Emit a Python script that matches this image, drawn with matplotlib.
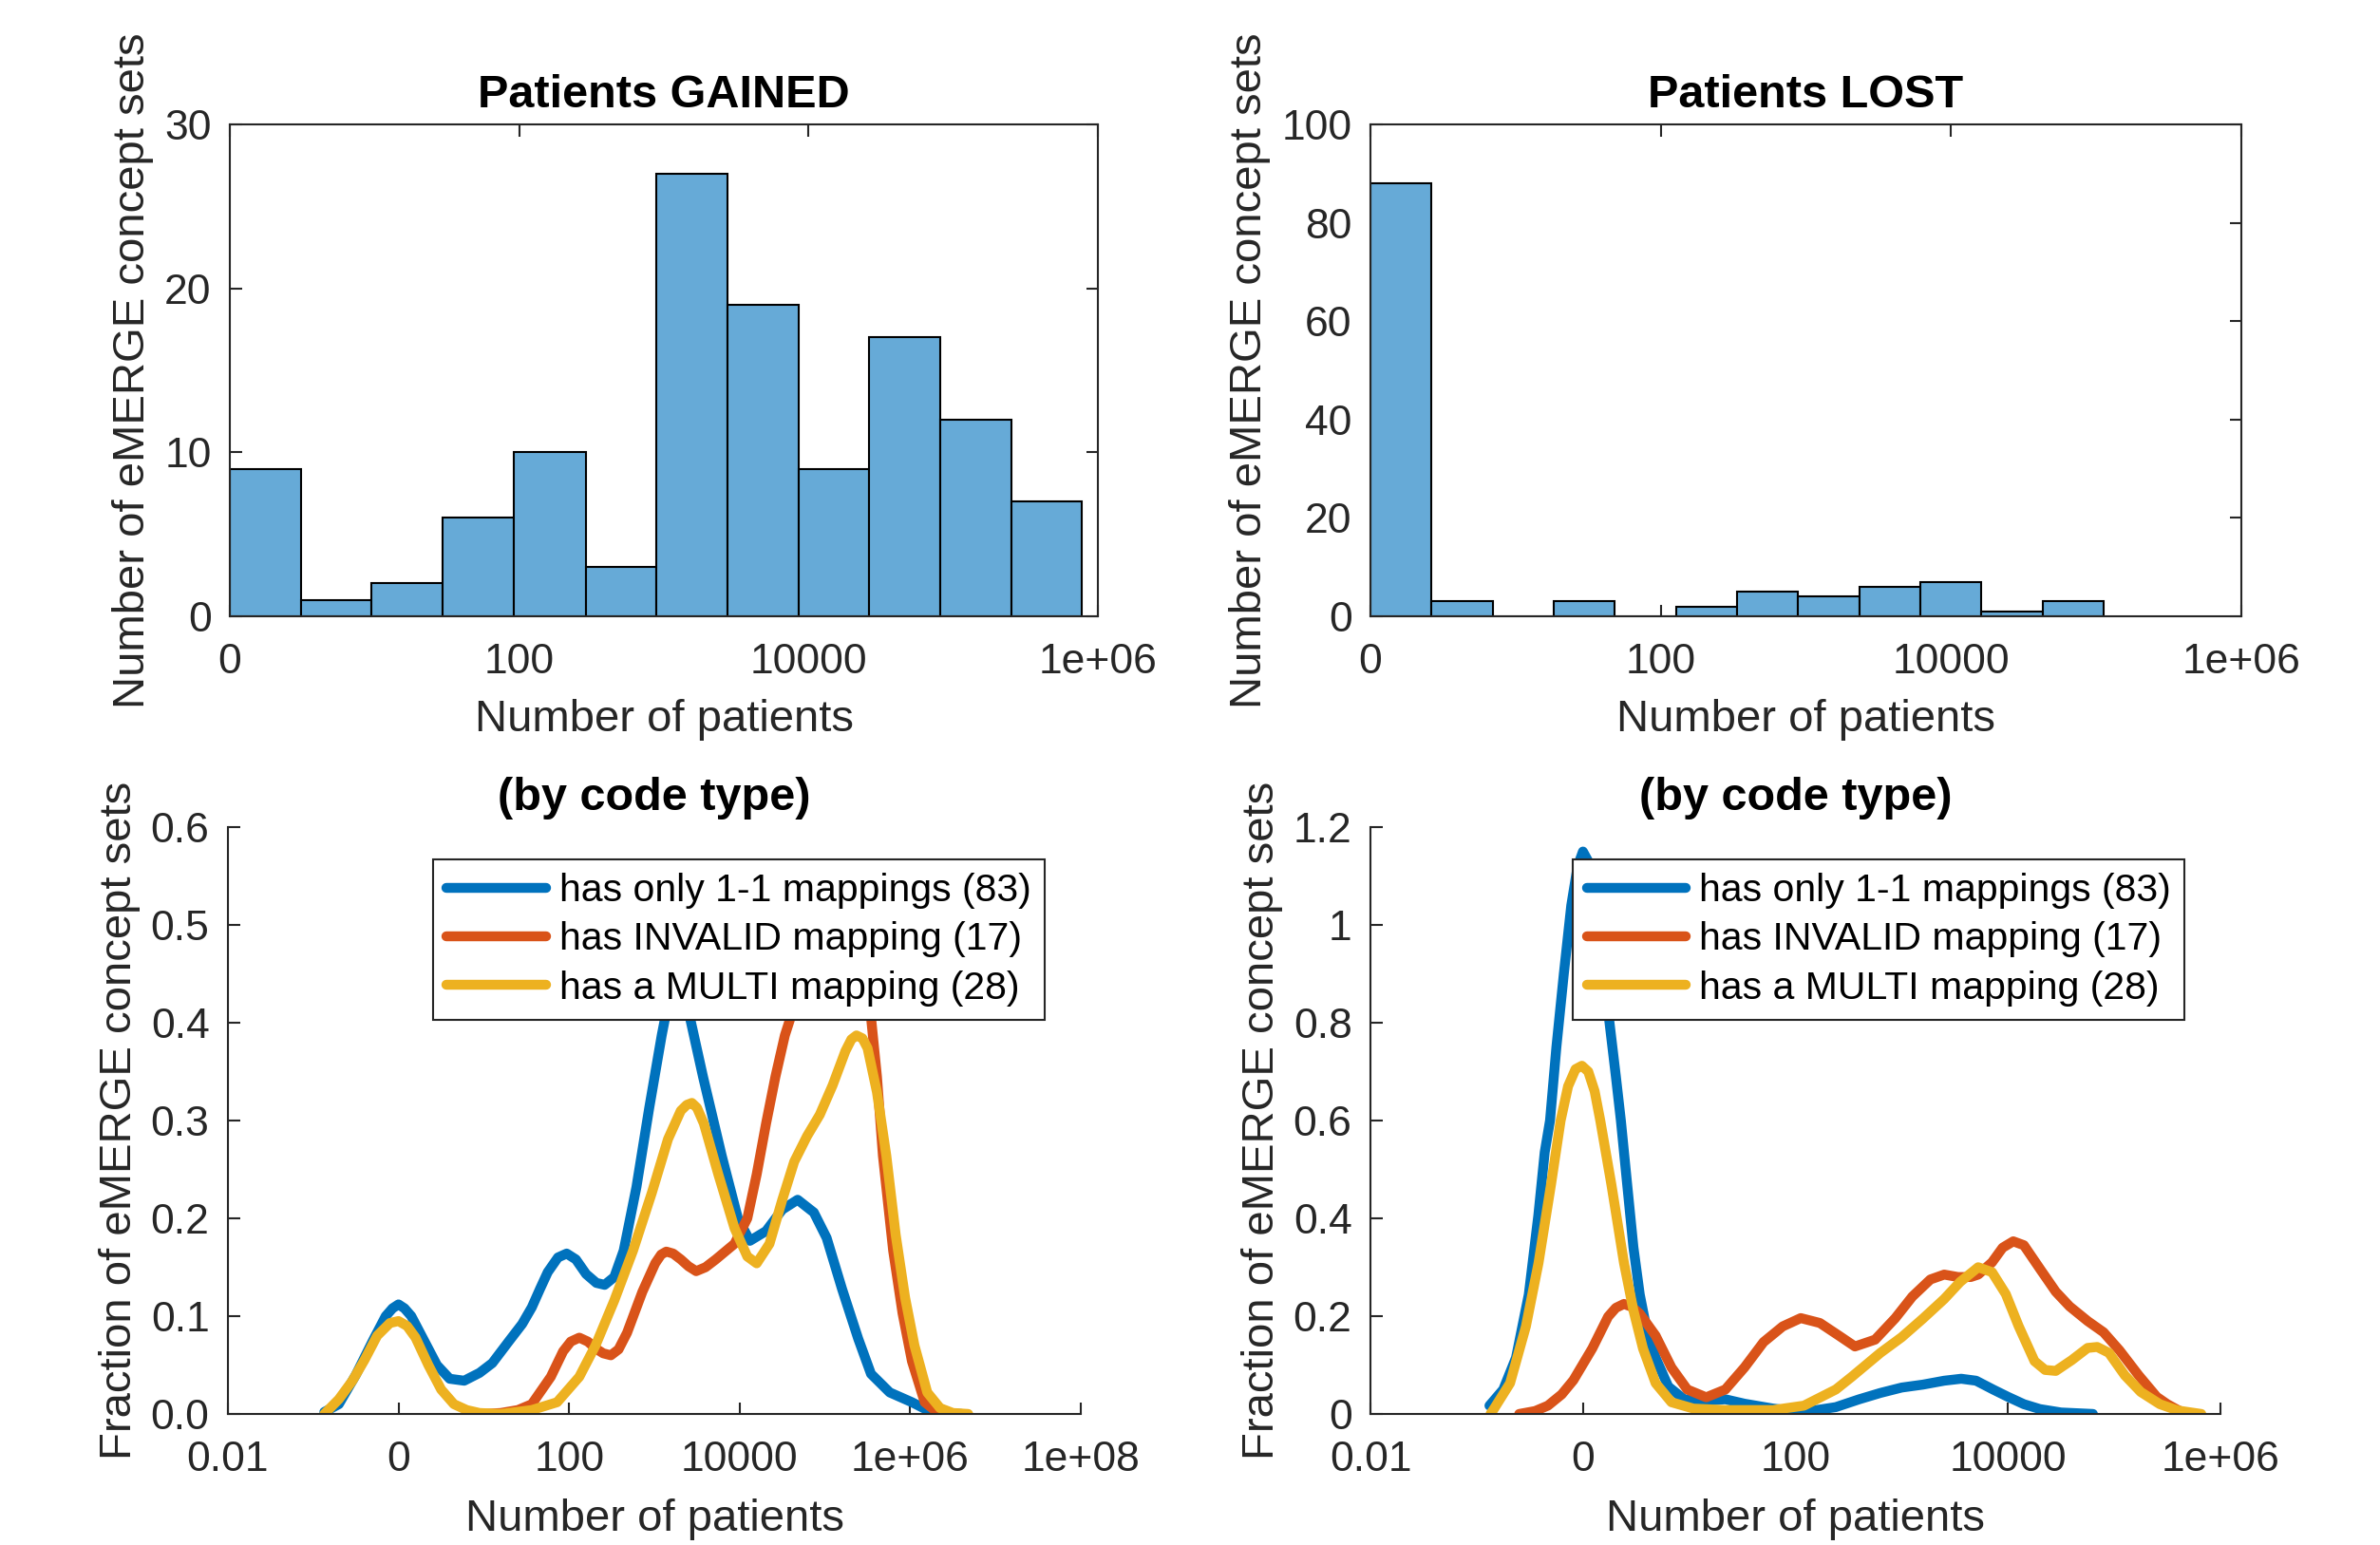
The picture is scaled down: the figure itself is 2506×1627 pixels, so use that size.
"""
Patients gained / lost per eMERGE concept set (histograms + density by code type).
"""
import numpy as np
import matplotlib
matplotlib.use("Agg")
import matplotlib.pyplot as plt

# ── Dados (eixo x em log10 do número de pacientes) ─────────────
GAINED_EDGES = [0.0, 0.49, 0.98, 1.47, 1.96, 2.46, 2.95, 3.44, 3.93, 4.42, 4.91, 5.40, 5.89]
GAINED_COUNTS = [9, 1, 2, 6, 10, 3, 27, 19, 9, 17, 12, 7]

LOST_EDGES = [0.0, 0.421, 0.842, 1.263, 1.684, 2.105, 2.526, 2.947, 3.368, 3.789, 4.21, 4.631, 5.052]
LOST_COUNTS = [88, 3, 0, 3, 0, 2, 5, 4, 6, 7, 1, 3]

SERIES_LABELS = [
    "has only 1-1 mappings (83)",
    "has INVALID mapping (17)",
    "has a MULTI mapping (28)",
]

# gained, by code type
G_ONE_X = [-0.87, -0.7, -0.5, -0.3, -0.15, -0.07, 0.0, 0.07, 0.15, 0.3, 0.45, 0.6, 0.77, 0.95, 1.1,
           1.3, 1.45, 1.563, 1.66, 1.75, 1.87, 1.972, 2.08, 2.2, 2.32, 2.417, 2.53, 2.64, 2.79, 2.94,
           3.086, 3.16, 3.2, 3.27, 3.34, 3.38, 3.57, 3.79, 3.98, 4.12, 4.31, 4.5, 4.68, 4.87, 5.02,
           5.2, 5.39, 5.54, 5.76, 6.02, 6.2, 6.4, 6.6]
G_ONE_Y = [0.002, 0.01, 0.04, 0.075, 0.1, 0.108, 0.112, 0.108, 0.1, 0.075, 0.05, 0.036, 0.034, 0.042,
           0.052, 0.075, 0.092, 0.109, 0.128, 0.145, 0.16, 0.164, 0.158, 0.143, 0.134, 0.132, 0.14,
           0.167, 0.232, 0.313, 0.387, 0.42, 0.44, 0.455, 0.44, 0.42, 0.345, 0.264, 0.2, 0.177,
           0.187, 0.209, 0.219, 0.206, 0.18, 0.128, 0.077, 0.041, 0.022, 0.012, 0.004, 0.001, 0.0]

G_INV_X = [1.0, 1.2, 1.4, 1.563, 1.786, 1.93, 2.02, 2.12, 2.22, 2.31, 2.4, 2.49, 2.58, 2.68, 2.86,
           3.01, 3.08, 3.14, 3.22, 3.31, 3.4, 3.49, 3.6, 3.72, 3.94, 4.09, 4.2, 4.31, 4.42, 4.53,
           4.6, 4.75, 4.95, 5.15, 5.3, 5.45, 5.54, 5.61, 5.68, 5.8, 5.91, 6.02, 6.17, 6.3, 6.43]
G_INV_Y = [0.0, 0.001, 0.004, 0.01, 0.038, 0.064, 0.074, 0.078, 0.074, 0.067, 0.062, 0.06, 0.066,
           0.083, 0.125, 0.154, 0.163, 0.166, 0.164, 0.158, 0.151, 0.146, 0.15, 0.158, 0.174, 0.2,
           0.245, 0.297, 0.345, 0.387, 0.406, 0.45, 0.49, 0.5, 0.49, 0.445, 0.406, 0.345, 0.264,
           0.167, 0.103, 0.054, 0.012, 0.003, 0.0]

G_MULTI_X = [-0.87, -0.7, -0.54, -0.4, -0.25, -0.1, 0.0, 0.1, 0.2, 0.35, 0.5, 0.65, 0.8, 0.95, 1.2,
             1.563, 1.86, 2.12, 2.31, 2.53, 2.75, 2.97, 3.16, 3.31, 3.38, 3.44, 3.5, 3.58, 3.75,
             3.94, 4.09, 4.2, 4.35, 4.5, 4.64, 4.79, 4.94, 5.09, 5.24, 5.31, 5.37, 5.44, 5.5, 5.61,
             5.72, 5.83, 5.94, 6.05, 6.2, 6.35, 6.5, 6.68]
G_MULTI_Y = [0.0, 0.015, 0.034, 0.055, 0.08, 0.093, 0.095, 0.09, 0.078, 0.05, 0.025, 0.01, 0.004,
             0.001, 0.0, 0.004, 0.012, 0.038, 0.07, 0.116, 0.167, 0.226, 0.281, 0.31, 0.316, 0.318,
             0.313, 0.297, 0.245, 0.19, 0.161, 0.154, 0.174, 0.219, 0.258, 0.284, 0.306, 0.336,
             0.371, 0.383, 0.387, 0.384, 0.374, 0.329, 0.264, 0.183, 0.119, 0.07, 0.022, 0.006,
             0.001, 0.0]

# lost, by code type
L_ONE_X = [-0.88, -0.75, -0.63, -0.51, -0.42, -0.36, -0.31, -0.25, -0.18, -0.11, -0.05, 0.0, 0.05,
           0.11, 0.18, 0.25, 0.31, 0.357, 0.416, 0.475, 0.535, 0.594, 0.684, 0.803, 0.952, 1.16,
           1.34, 1.52, 1.79, 2.08, 2.38, 2.6, 2.8, 3.0, 3.2, 3.4, 3.56, 3.7, 3.86, 4.0, 4.15, 4.3,
           4.5, 4.8]
L_ONE_Y = [0.017, 0.05, 0.115, 0.244, 0.406, 0.535, 0.6, 0.75, 0.9, 1.04, 1.12, 1.15, 1.13, 1.06,
           0.94, 0.8, 0.69, 0.6, 0.47, 0.341, 0.244, 0.179, 0.115, 0.056, 0.03, 0.027, 0.03, 0.021,
           0.011, 0.004, 0.014, 0.03, 0.043, 0.054, 0.06, 0.068, 0.072, 0.068, 0.05, 0.035, 0.02,
           0.01, 0.003, 0.0]

L_INV_X = [-0.6, -0.45, -0.33, -0.2, -0.09, 0.088, 0.237, 0.31, 0.386, 0.46, 0.535, 0.684, 0.833,
           0.982, 1.16, 1.34, 1.52, 1.7, 1.88, 2.05, 2.23, 2.41, 2.56, 2.75, 2.94, 3.1, 3.27, 3.4,
           3.53, 3.65, 3.72, 3.85, 3.95, 4.05, 4.15, 4.31, 4.45, 4.58, 4.75, 4.9, 5.05, 5.23, 5.4,
           5.5, 5.6, 5.69]
L_INV_Y = [0.0, 0.006, 0.017, 0.04, 0.069, 0.134, 0.199, 0.217, 0.225, 0.219, 0.205, 0.16, 0.095,
           0.05, 0.034, 0.05, 0.095, 0.147, 0.179, 0.196, 0.186, 0.16, 0.138, 0.152, 0.196, 0.24,
           0.275, 0.285, 0.28, 0.28, 0.285, 0.31, 0.34, 0.353, 0.345, 0.294, 0.25, 0.22, 0.19,
           0.167, 0.13, 0.079, 0.035, 0.02, 0.008, 0.0]

L_MULTI_X = [-0.87, -0.836, -0.686, -0.537, -0.418, -0.3, -0.21, -0.14, -0.07, -0.01, 0.05, 0.11,
             0.163, 0.267, 0.386, 0.475, 0.565, 0.684, 0.833, 1.04, 1.34, 1.79, 2.08, 2.38, 2.53,
             2.8, 3.0, 3.2, 3.4, 3.55, 3.72, 3.85, 3.98, 4.1, 4.25, 4.35, 4.45, 4.6, 4.75, 4.84,
             4.95, 5.1, 5.25, 5.43, 5.6, 5.82]
L_MULTI_Y = [0.0, 0.011, 0.063, 0.179, 0.309, 0.47, 0.6, 0.67, 0.705, 0.712, 0.7, 0.66, 0.6, 0.47,
             0.309, 0.212, 0.134, 0.063, 0.024, 0.011, 0.008, 0.008, 0.017, 0.05, 0.076, 0.125,
             0.157, 0.195, 0.235, 0.27, 0.3, 0.29, 0.245, 0.18, 0.108, 0.09, 0.088, 0.11, 0.135,
             0.137, 0.125, 0.079, 0.045, 0.02, 0.007, 0.0]

# rótulos dos eixos x
HIST_TICKS = [0, 2, 4, 6]
HIST_TICKLABELS = ["0", "100", "10000", "1e+06"]
G_KDE_TICKS = [-2, 0, 2, 4, 6, 8]
G_KDE_TICKLABELS = ["0.01", "0", "100", "10000", "1e+06", "1e+08"]
L_KDE_TICKS = [-2, 0, 2, 4, 6]
L_KDE_TICKLABELS = ["0.01", "0", "100", "10000", "1e+06"]

# ── Estilo ─────────────────────────────────────────────────────
W, H = 2506, 1627
DARK = "#262626"
BAR_COLOR = "#66AAD7"
LINE_COLORS = ["#0072BD", "#D95319", "#EDB120"]
TICK_FS = 32
LABEL_FS = 34
TITLE_FS = 35
LEGEND_FS = 29.5
LW = 7.5

plt.rcParams["font.family"] = ["Liberation Sans", "DejaVu Sans"]


def rect(left, top, right, bottom):
    """Converte pixels (origem no topo) para fração da figura."""
    return [left / W, 1 - bottom / H, (right - left) / W, (bottom - top) / H]


def style_axes(ax, box):
    for side in ["left", "bottom", "top", "right"]:
        ax.spines[side].set_color(DARK)
        ax.spines[side].set_linewidth(1.5)
    if not box:
        ax.spines["top"].set_visible(False)
        ax.spines["right"].set_visible(False)
    ax.tick_params(direction="in", length=9, width=1.5, colors=DARK,
                   labelsize=TICK_FS, top=box, right=box)
    ax.tick_params(axis="x", pad=20)
    ax.tick_params(axis="y", pad=14)


def plot_hist(ax, edges, counts, title, ymax, yticks):
    ax.bar(edges[:-1], counts, width=np.diff(edges), align="edge",
           color=BAR_COLOR, edgecolor="black", linewidth=1.5, zorder=2)
    ax.set_xlim(0, 6)
    ax.set_ylim(0, ymax)
    ax.set_xticks(HIST_TICKS)
    ax.set_xticklabels(HIST_TICKLABELS)
    ax.set_yticks(yticks)
    style_axes(ax, box=True)
    ax.set_title(title, fontsize=TITLE_FS, fontweight="bold", pad=13)
    ax.set_xlabel("Number of patients", fontsize=LABEL_FS, color=DARK)
    ax.set_ylabel("Number of eMERGE concept sets", fontsize=LABEL_FS, color=DARK)


def plot_kde(ax, series, xlim, ylim, yticks, xticks, xticklabels):
    for (x, y), color, label in zip(series, LINE_COLORS, SERIES_LABELS):
        ax.plot(x, y, color=color, linewidth=LW, label=label,
                solid_joinstyle="round", solid_capstyle="round")
    ax.set_xlim(*xlim)
    ax.set_ylim(*ylim)
    ax.set_xticks(xticks)
    ax.set_xticklabels(xticklabels)
    ax.set_yticks(yticks)
    style_axes(ax, box=False)
    ax.set_title("(by code type)", fontsize=TITLE_FS, fontweight="bold", pad=13)
    ax.set_xlabel("Number of patients", fontsize=LABEL_FS, color=DARK)
    ax.set_ylabel("Fraction of eMERGE concept sets", fontsize=LABEL_FS, color=DARK)
    leg = ax.legend(loc="upper right", bbox_to_anchor=(0.958, 0.945), fontsize=LEGEND_FS,
                    frameon=True, fancybox=False, framealpha=1, edgecolor=DARK,
                    borderpad=0.35, labelspacing=0.32, handlelength=2.55,
                    handletextpad=0.35, borderaxespad=0)
    leg.get_frame().set_linewidth(1.5)
    leg.set_zorder(5)


fig = plt.figure(figsize=(W / 100, H / 100), dpi=100)

ax1 = fig.add_axes(rect(242, 131, 1156, 649))
plot_hist(ax1, GAINED_EDGES, GAINED_COUNTS, "Patients GAINED", 30, [0, 10, 20, 30])
ax1.xaxis.set_label_coords(0.5, -0.168)
ax1.yaxis.set_label_coords(-0.088, 0.5)

ax2 = fig.add_axes(rect(1443, 131, 2360, 649))
plot_hist(ax2, LOST_EDGES, LOST_COUNTS, "Patients LOST", 100, [0, 20, 40, 60, 80, 100])
ax2.xaxis.set_label_coords(0.5, -0.168)
ax2.yaxis.set_label_coords(-0.114, 0.5)

ax3 = fig.add_axes(rect(240, 871, 1138, 1489))
plot_kde(ax3, [(G_ONE_X, G_ONE_Y), (G_INV_X, G_INV_Y), (G_MULTI_X, G_MULTI_Y)],
         (-2, 8), (0, 0.6), [0, 0.1, 0.2, 0.3, 0.4, 0.5, 0.6], G_KDE_TICKS, G_KDE_TICKLABELS)
ax3.xaxis.set_label_coords(0.5, -0.144)
ax3.yaxis.set_label_coords(-0.102, 0.5)

ax4 = fig.add_axes(rect(1443, 871, 2338, 1489))
plot_kde(ax4, [(L_ONE_X, L_ONE_Y), (L_INV_X, L_INV_Y), (L_MULTI_X, L_MULTI_Y)],
         (-2, 6), (0, 1.2), [0, 0.2, 0.4, 0.6, 0.8, 1, 1.2], L_KDE_TICKS, L_KDE_TICKLABELS)
ax4.set_yticklabels(["0", "0.2", "0.4", "0.6", "0.8", "1", "1.2"])
ax4.xaxis.set_label_coords(0.5, -0.144)
ax4.yaxis.set_label_coords(-0.103, 0.5)

fig.savefig("out.png", dpi=100)
